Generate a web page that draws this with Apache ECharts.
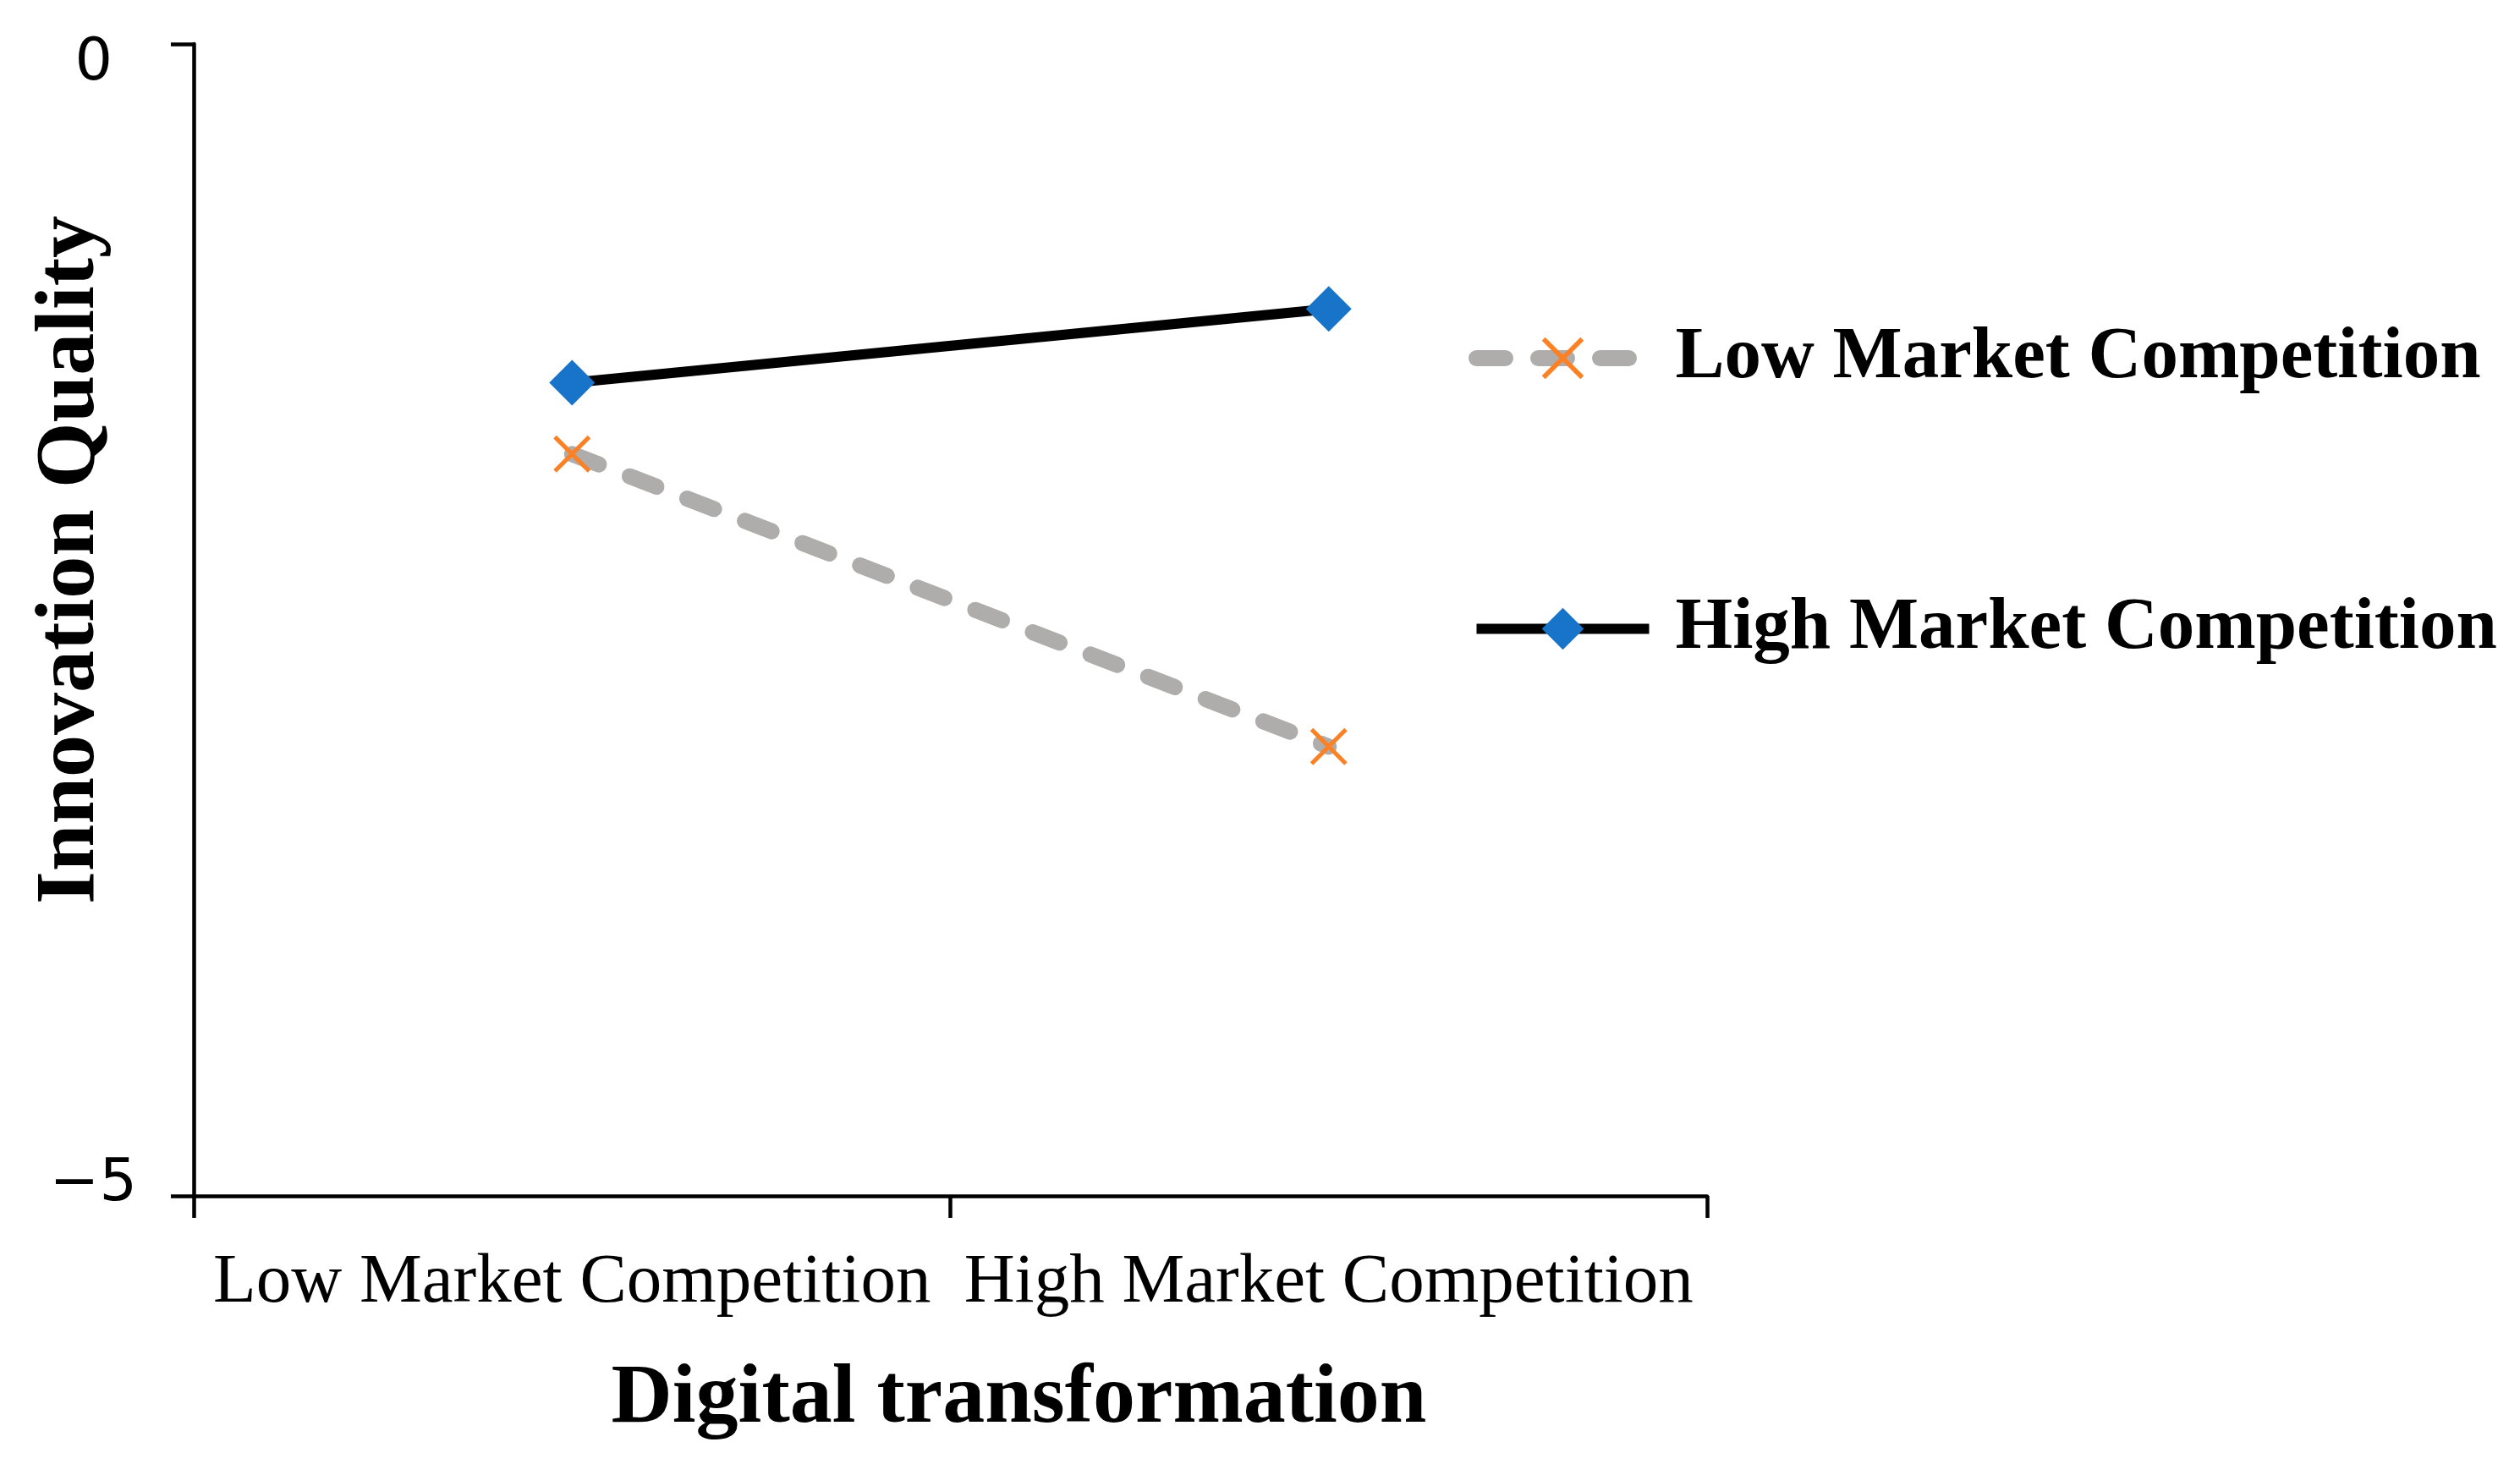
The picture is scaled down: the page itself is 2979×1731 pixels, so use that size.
<!DOCTYPE html>
<html><head><meta charset="utf-8">
<script src="https://cdn.jsdelivr.net/npm/echarts@6/dist/echarts.min.js"></script>
<style>html,body{margin:0;padding:0;background:#fff}#c{width:2979px;height:1731px}</style>
</head><body><div id="c"></div>
<script>
const categories = ['Low Market Competition', 'High Market Competition'];
const seriesNames = ['Low Market Competition', 'High Market Competition'];
const lowCompetition = [-1.78, -3.05];
const highCompetition = [-1.47, -1.15];
const yMin = -5, yMax = 0, yStep = 5;
const xTitle = 'Digital transformation';
const yTitle = 'Innovation Quality';

const SERIF = '"Liberation Serif", "Times New Roman", serif';
const SANS = '"DejaVu Sans", sans-serif';
const xMark = 'path://M0,8L8,0L100,92L92,100Z M92,0L100,8L8,100L0,92Z';

const lowLine = {color: '#AFADAB', width: 19, type: [34, 39], cap: 'round'};
const highLine = {color: '#000000', width: 12};

const chart = echarts.init(document.getElementById('c'), null, {renderer: 'canvas'});
chart.setOption({
  animation: false,
  backgroundColor: '#ffffff',
  grid: {left: 229, right: 961, top: 52, bottom: 317, containLabel: false, outerBoundsMode: 'none'},
  legend: {
    orient: 'vertical', left: 1736, top: 380, padding: 0,
    itemWidth: 204, itemHeight: 62, itemGap: 233,
    data: [
      {name: seriesNames[0], lineStyle: lowLine},
      {name: seriesNames[1], lineStyle: highLine}
    ],
    selectedMode: false,
    textStyle: {fontFamily: SERIF, fontWeight: 'bold', fontSize: 87, color: '#000', padding: [0, 0, 0, 26]}
  },
  xAxis: {
    type: 'category', data: categories, boundaryGap: true,
    name: xTitle, nameLocation: 'middle', nameGap: 191, nameMoveOverlap: false,
    nameTextStyle: {fontFamily: SERIF, fontWeight: 'bold', fontSize: 100, color: '#000', padding: [0, 0, 0, 162]},
    axisLine: {onZero: false, lineStyle: {color: '#000', width: 4.5}},
    axisTick: {show: true, length: 26, interval: 0, lineStyle: {color: '#000', width: 4.5}},
    axisLabel: {interval: 0, margin: 62, fontFamily: SERIF, fontSize: 83, color: '#000'},
    splitLine: {show: false}
  },
  yAxis: {
    type: 'value', min: yMin, max: yMax, interval: yStep,
    name: yTitle, nameLocation: 'middle', nameGap: 95, nameRotate: 90, nameMoveOverlap: false,
    nameTextStyle: {fontFamily: SERIF, fontWeight: 'bold', fontSize: 100, color: '#000', padding: [0, 0, 0, 142]},
    axisLine: {show: true, lineStyle: {color: '#000', width: 4.5}},
    axisTick: {show: true, length: 27, lineStyle: {color: '#000', width: 4.5}},
    axisLabel: {
      margin: 67, fontFamily: SANS, fontSize: 70, color: '#000',
      formatter: function (v) {
        const s = v < 0 ? '\u2212' + Math.abs(v) : String(v);
        return (v === yMax ? '{z|' : '{m|') + s + '}';
      },
      rich: {
        z: {fontFamily: SANS, fontSize: 70, color: '#000', padding: [48, 29, 0, 0]},
        m: {fontFamily: SANS, fontSize: 70, color: '#000', padding: [0, 0, 26, 0]}
      }
    },
    splitLine: {show: false}
  },
  series: [
    {
      name: seriesNames[0], type: 'line', data: lowCompetition,
      symbol: xMark, symbolSize: 44,
      itemStyle: {color: '#FB8124'},
      lineStyle: lowLine,
      z: 2
    },
    {
      name: seriesNames[1], type: 'line', data: highCompetition,
      symbol: 'diamond', symbolSize: 54,
      itemStyle: {color: '#1874C8'},
      lineStyle: highLine,
      z: 3
    }
  ]
});
</script>
</body></html>
